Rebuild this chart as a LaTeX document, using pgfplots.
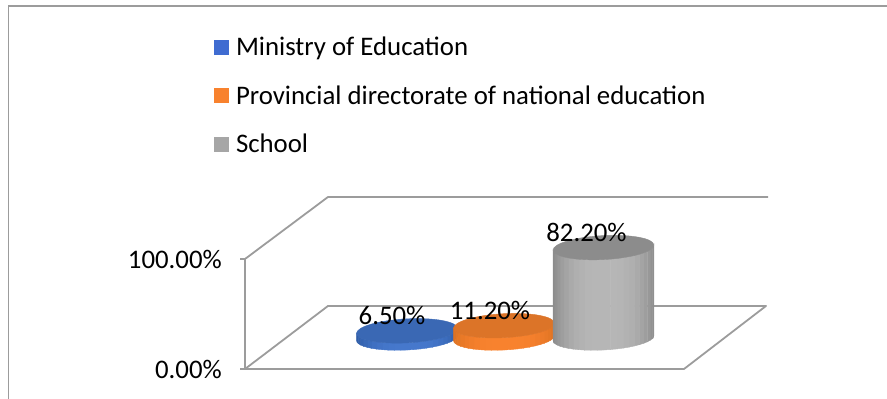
\documentclass[border=0pt]{standalone}
\usepackage{pgfplots}
\usepackage{pgfplotstable}
\usepackage{fontspec}
\setmainfont{Carlito}
\pgfplotsset{compat=1.18}

\definecolor{framegray}{HTML}{9C9C9C}
\definecolor{bluetop}{HTML}{3A68B4}
\definecolor{bluemid}{HTML}{4678CC}
\definecolor{blueedge}{HTML}{2F5DA8}
\definecolor{orangetop}{HTML}{DC7428}
\definecolor{orangemid}{HTML}{F8822E}
\definecolor{orangeedge}{HTML}{DE7222}
\definecolor{graytop}{HTML}{8C8C8C}
\definecolor{graymid}{HTML}{B6B6B6}
\definecolor{grayedge}{HTML}{8C8C8C}

\newcommand{\labelfont}{\fontsize{26.8}{30}\selectfont}

% A mark that paints nothing: the scatter code below does the drawing
\pgfdeclareplotmark{nothing}{}

\pgfplotstableread{
x     value
407   6.5
}\ministrydata
\pgfplotstableread{
x     value
504   11.2
}\provincialdata
\pgfplotstableread{
x     value
603.5 82.2
}\schooldata

% One cylinder at (x, value): the body hangs below the top cap by 1.1pt per percent.
% The side is built from narrow strips going from edge colour to centre colour.
% Arguments: table, cap colour, centre colour, edge colour, label shifts
\newcommand{\cylinder}[6]{%
  \addplot[scatter, only marks, mark=nothing, point meta=y, forget plot,
    scatter/@pre marker code/.code={%
      \pgfmathfloattofixed{\pgfplotspointmeta}\let\cylval\pgfmathresult
      \pgfmathsetmacro\cylh{\cylval*1.1}%
      \foreach \t in {0,7.5,...,172.5}{%
        \pgfmathsetmacro\xa{50.43*cos(\t)+0.63*sin(\t)}%
        \pgfmathsetmacro\ya{2.64*cos(\t)-11.98*sin(\t)}%
        \pgfmathsetmacro\xb{50.43*cos(\t+8)+0.63*sin(\t+8)}%
        \pgfmathsetmacro\yb{2.64*cos(\t+8)-11.98*sin(\t+8)}%
        \pgfmathsetmacro\shademix{100*(1-abs(cos(\t+3.75))^3)}%
        \fill[#3!\shademix!#4] (\xa pt,\ya pt) -- (\xb pt,\yb pt)
          -- (\xb pt,{(\yb-\cylh)*1pt}) -- (\xa pt,{(\ya-\cylh)*1pt}) -- cycle;
      }%
      \fill[#2] (50.43pt,2.64pt)
        .. controls (50.08pt,9.26pt) and (27.22pt,13.44pt) .. (-0.63pt,11.98pt)
        .. controls (-28.48pt,10.52pt) and (-50.78pt,3.98pt) .. (-50.43pt,-2.64pt)
        .. controls (-50.08pt,-9.26pt) and (-27.22pt,-13.44pt) .. (0.63pt,-11.98pt)
        .. controls (28.48pt,-10.52pt) and (50.78pt,-3.98pt) .. (50.43pt,2.64pt) -- cycle;
    },
    scatter/@post marker code/.code={}]
    table[x=x, y=value] {#1};
  \addplot[only marks, mark=nothing, forget plot,
    nodes near coords, point meta=y,
    nodes near coords style={anchor=center, text=black, xshift=#5, yshift=#6, font=\labelfont,
      /pgf/number format/fixed, /pgf/number format/fixed zerofill, /pgf/number format/precision=2,
      /pgf/number format/assume math mode=true},
    nodes near coords={\pgfmathprintnumber{\pgfplotspointmeta}\%}]
    table[x=x, y=value] {#1};
}

\begin{document}
\begin{tikzpicture}[x=1pt, y=1pt]
\path[use as bounding box] (0,0) rectangle (887,399);
% Outer chart border
\draw[framegray, line width=1.3pt] (8.5,0) -- (8.5,393) -- (887,393);

% Walls and floor of the plot box, with the percentage scale
\begin{axis}[
  at={(245pt,30pt)}, anchor=south west, scale only axis,
  width=523pt, height=172pt,
  xmin=245, xmax=768, ymin=0, ymax=156.36,
  clip=false, axis line style={draw=none},
  xtick=\empty, ytick={0,100}, ytick pos=left,
  tick align=outside, major tick length=5pt,
  ytick style={framegray, line width=1.4pt},
  yticklabel style={font=\labelfont, /pgf/number format/assume math mode=true},
  yticklabel={\pgfmathprintnumber[fixed, fixed zerofill, precision=2]{\tick}\%},
  tick label style={inner sep=0pt},
  yticklabel shift=18pt,
]
\addplot[framegray, line width=1.8pt, line join=round] coordinates {
  (245,100) (245,0) (684,0) (766,57.3) (328,57.3) (245,0)};
\addplot[framegray, line width=1.8pt, line join=round] coordinates {
  (245,100) (328,156.36) (768,156.36)};
\end{axis}

% Cylinders, drawn from a zero line that sits on the floor of the box
\begin{axis}[
  at={(245pt,61pt)}, anchor=south west, scale only axis,
  width=523pt, height=172pt,
  xmin=245, xmax=768, ymin=0, ymax=156.36,
  clip=false, axis line style={draw=none}, xtick=\empty, ytick=\empty,
  legend style={at={(axis cs:214,273.6)}, anchor=north west, draw=none, fill=none,
    inner sep=0pt, outer sep=0pt, row sep=28.5pt,
    font=\labelfont, nodes={inner sep=0pt}},
  legend cell align=left,
  legend image code/.code={\fill[#1] (0pt,-7.5pt) rectangle (15pt,7.5pt);},
]
\addlegendimage{fill=bluemid!50!blue!20!bluemid, draw=none}
\addlegendentry{\hspace{7pt}Ministry of Education}
\addlegendimage{fill=orange!0!orangemid, draw=none}
\addlegendentry{\hspace{7pt}Provincial directorate of national education}
\addlegendimage{fill=black!35, draw=none}
\addlegendentry{\hspace{7pt}School}

\cylinder{\ministrydata}{bluetop}{bluemid}{blueedge}{-15pt}{15pt}
\cylinder{\provincialdata}{orangetop}{orangemid}{orangeedge}{-14pt}{15pt}
\cylinder{\schooldata}{graytop}{graymid}{grayedge}{-17pt}{15pt}
\end{axis}
\end{tikzpicture}
\end{document}
